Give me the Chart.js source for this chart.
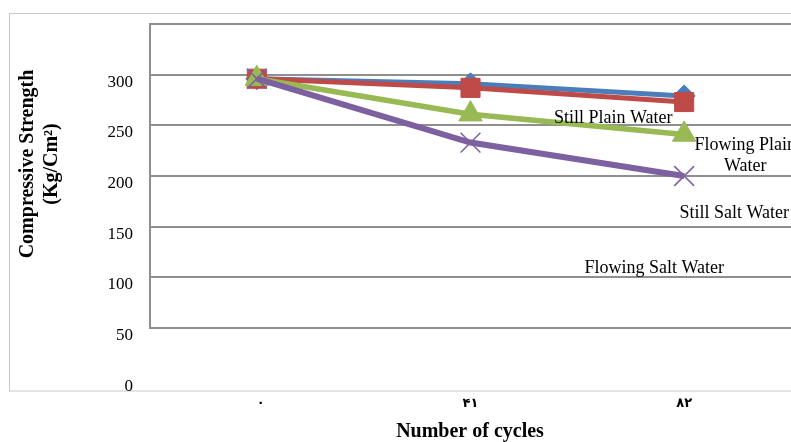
<!DOCTYPE html>
<html>
<head>
<meta charset="utf-8">
<script src="https://cdn.jsdelivr.net/npm/chart.js@4/dist/chart.umd.min.js"></script>
<style>
  html, body { margin: 0; padding: 0; background: #ffffff; overflow: hidden; }
  canvas { display: block; }
</style>
</head>
<body>
<canvas id="c" width="791" height="442"></canvas>
<script>
// Number of cycles (Persian digits)
const cycles = ['۰', '۴۱', '۸۲'];

// Compressive strength, Kg/Cm²
const stillPlain   = [296, 291, 279];
const flowingPlain = [296, 287, 273];
const stillSalt    = [296, 261, 241];
const flowingSalt  = [296, 233, 200];

const seriesNames = ['Still Plain Water', 'Flowing Plain Water', 'Still Salt Water', 'Flowing Salt Water'];

// Labels printed on the value axis
const yTickValues = [0, 50, 100, 150, 200, 250, 300];

const yTitleLines = ['Compressive Strength', '(Kg/Cm²)'];
const xTitle = 'Number of cycles';

const SERIF = '"Liberation Serif", "Times New Roman", serif';
const GRID = '#8f8f8f';

// Text overlay: frame, axis labels, titles and series captions
const overlay = {
  id: 'overlay',
  beforeDraw(chart) {
    const ctx = chart.ctx;
    ctx.save();
    ctx.fillStyle = '#ffffff';
    ctx.fillRect(0, 0, chart.width, chart.height);
    ctx.strokeStyle = '#c8c8c8';
    ctx.lineWidth = 1;
    ctx.strokeRect(9.5, 13.5, 900, 377.5);
    ctx.restore();
  },
  afterDraw(chart) {
    const ctx = chart.ctx;
    const xs = chart.scales.x, ys = chart.scales.y;
    ctx.save();
    ctx.fillStyle = '#000000';

    // value axis labels
    ctx.font = '17px ' + SERIF;
    ctx.textAlign = 'right';
    ctx.textBaseline = 'middle';
    yTickValues.forEach(v => {
      ctx.fillText(String(v), 133, ys.getPixelForValue(v) + 7.5);
    });

    // category labels
    ctx.font = 'bold 13px "DejaVu Sans", sans-serif';
    ctx.textAlign = 'center';
    cycles.forEach((c, i) => {
      ctx.fillText(c, xs.getPixelForValue(i) + (i === 0 ? 4 : 0), 404);
    });

    // axis titles
    ctx.font = 'bold 20px ' + SERIF;
    ctx.fillText(xTitle, 470, 432);
    ctx.save();
    ctx.translate(0, 164);
    ctx.rotate(-Math.PI / 2);
    ctx.fillText(yTitleLines[0], 0, 28);
    ctx.fillText(yTitleLines[1], 0, 52);
    ctx.restore();

    // series captions, placed relative to the last category
    ctx.font = '18px ' + SERIF;
    const xEnd = xs.getPixelForValue(2);
    const captions = [
      { lines: [seriesNames[0]], dx: -71, v: 257 },
      { lines: ['Flowing Plain', 'Water'], dx: 61, v: 230 },
      { lines: [seriesNames[2]], dx: 50, v: 163 },
      { lines: [seriesNames[3]], dx: -30, v: 109 }
    ];
    captions.forEach(cp => {
      const y0 = ys.getPixelForValue(cp.v);
      cp.lines.forEach((ln, k) => ctx.fillText(ln, xEnd + cp.dx, y0 + k * 20.5));
    });
    ctx.restore();
  }
};

function series(label, data, color, style, radius, width, order, ptWidth) {
  return {
    label, data,
    borderColor: color,
    backgroundColor: color,
    pointBackgroundColor: color,
    pointBorderColor: color,
    pointStyle: style,
    pointRadius: radius,
    pointBorderWidth: ptWidth,
    borderWidth: width,
    tension: 0,
    order
  };
}

new Chart(document.getElementById('c'), {
  type: 'line',
  data: {
    labels: cycles,
    datasets: [
      series(seriesNames[0], stillPlain,   '#4a7ebb', 'rectRot', 11,   5,   3, 1),
      series(seriesNames[1], flowingPlain, '#be4b48', 'rect',    13.5, 5,   2, 1),
      series(seriesNames[2], stillSalt,    '#98b954', 'triangle',13.5, 5.5, 1, 1),
      series(seriesNames[3], flowingSalt,  '#7d60a0', 'crossRot',14,   6,   0, 1.5)
    ]
  },
  options: {
    responsive: false,
    devicePixelRatio: 1,
    animation: false,
    layout: { autoPadding: false, padding: { left: 150, top: 24, right: 0, bottom: 114 } },
    plugins: { legend: { display: false }, tooltip: { enabled: false } },
    scales: {
      x: {
        type: 'category',
        offset: true,
        grid: { display: false, drawTicks: false },
        ticks: { display: false },
        border: { display: true, color: GRID, width: 2 }
      },
      y: {
        min: 50,
        max: 350,
        ticks: { display: false, stepSize: 50 },
        grid: { color: GRID, lineWidth: 2, drawTicks: false },
        border: { display: true, color: GRID, width: 2 }
      }
    }
  },
  plugins: [overlay]
});
</script>
</body>
</html>
